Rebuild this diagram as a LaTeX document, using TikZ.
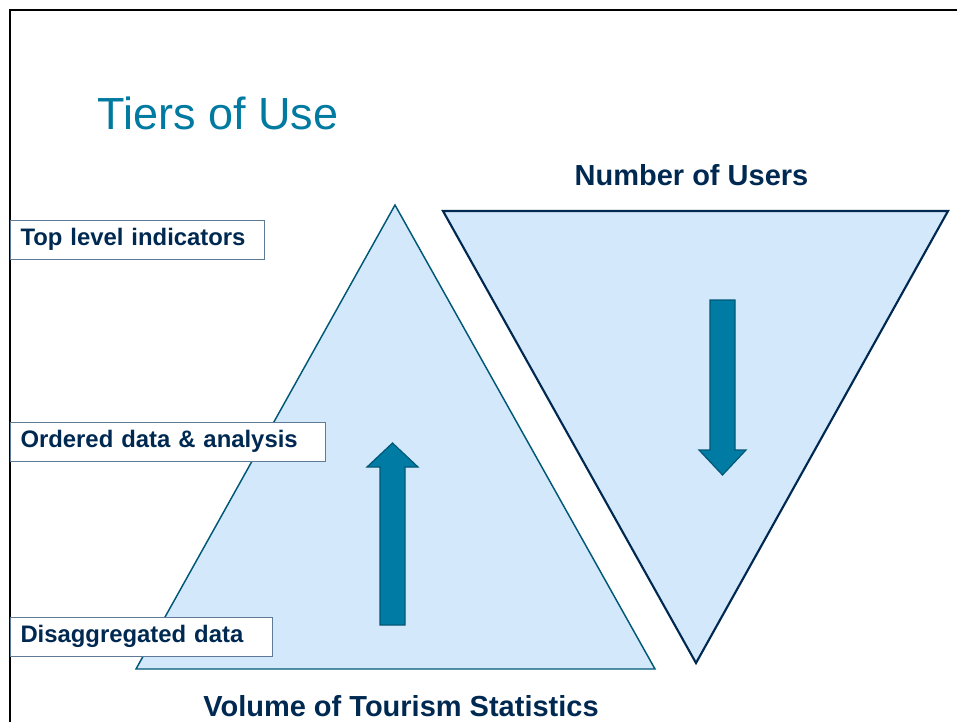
\documentclass[tikz,border=0pt]{standalone}
\usepackage{fontspec}
\setmainfont{Liberation Sans}
\usepackage{tikz}
\usetikzlibrary{positioning}
\definecolor{titleteal}{RGB}{0,122,160}
\definecolor{labelnavy}{RGB}{0,41,82}
\definecolor{paleblue}{RGB}{212,232,252}
\definecolor{arrowteal}{RGB}{0,123,164}
\definecolor{edgeteal}{RGB}{0,88,118}
\definecolor{boxgrey}{RGB}{95,122,150}
\tikzstyle{tier}=[
	rectangle,
	draw=boxgrey,
	line width=0.75pt,
	fill=white,
	anchor=west,
	align=left,
	minimum height=29.25pt,
	inner xsep=7.5pt,
	inner ysep=0pt,
	text=labelnavy,
	font=\fontsize{17.9}{21}\selectfont\bfseries
]
\tikzstyle{heading}=[
	anchor=base,
	inner sep=0pt,
	text=labelnavy,
	font=\fontsize{21.75}{26}\selectfont\bfseries
]
\tikzstyle{pyramid}=[
	fill=paleblue,
	draw=edgeteal,
	line width=1.1pt,
	line join=miter
]
\tikzstyle{funnel}=[
	fill=paleblue,
	draw=labelnavy,
	line width=1.6pt,
	line join=miter
]
\tikzstyle{flow}=[
	fill=arrowteal,
	draw=edgeteal,
	line width=0.9pt
]
\begin{document}
\begin{tikzpicture}[x=0.75pt,y=-0.75pt]
\useasboundingbox (0,0) rectangle (957,722);
% frame
\draw[line width=2.2pt] (957,10) -- (10,10) -- (10,722);
% title
\node [anchor=base west, inner sep=0pt, text=titleteal,
	font=\fontsize{33.75}{40}\selectfont] (title) at (97,129) {Tiers of Use};
% the two triangles
\draw[pyramid] (395,205) -- (655,669) -- (136,669) -- cycle;
\draw[funnel] (443,211) -- (948,211) -- (696,663) -- cycle;
% arrows
\draw[flow] (380,625) -- (380,467) -- (367,467) -- (392.5,443) -- (418,467)
	-- (405,467) -- (405,625) -- cycle;
\draw[flow] (710,300) -- (735,300) -- (735,450) -- (746,450) -- (722.5,475)
	-- (699,450) -- (710,450) -- cycle;
% tiers
\node [tier, text width=175.5pt] (top) at (10,239.5) {Top level indicators};
\node [tier, text width=221.25pt] (ordered) at (10,441.5) {Ordered data \& analysis};
\node [tier, text width=181.5pt] (disagg) at (10,636.5) {Disaggregated data};
% headings
\node [heading] (users) at (691.5,185) {Number of Users};
\node [heading] (volume) at (401,716) {Volume of Tourism Statistics};
\end{tikzpicture}
\end{document}
